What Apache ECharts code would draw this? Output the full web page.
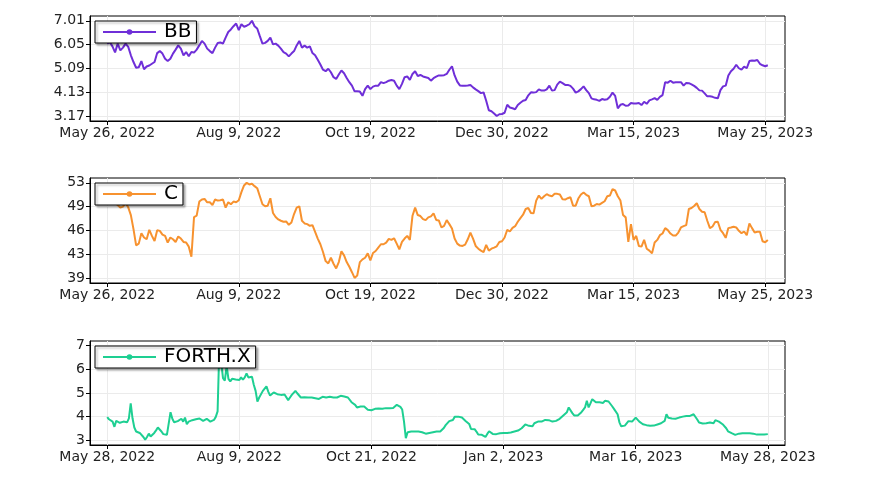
<!DOCTYPE html>
<html><head><meta charset="utf-8">
<script src="https://cdn.jsdelivr.net/npm/echarts/dist/echarts.min.js"></script>
<style>html,body{margin:0;padding:0;background:#fff}#c{width:875px;height:486px}</style>
</head><body><div id="c"></div>
<script>
// ---- tick positions / labels ----
const stockTickIdx = [0, 50, 100, 150, 200, 250];
const stockTickLabels = ["May 26, 2022", "Aug 9, 2022", "Oct 19, 2022", "Dec 30, 2022", "Mar 15, 2023", "May 25, 2023"];
const cryptoTickIdx = [0, 73, 146, 219, 292, 365];
const cryptoTickLabels = ["May 28, 2022", "Aug 9, 2022", "Oct 21, 2022", "Jan 2, 2023", "Mar 16, 2023", "May 28, 2023"];
const bbTicks = [3.17, 4.13, 5.09, 6.05, 7.01];
const cTicks = [39.2, 42.6, 46.0, 49.4, 52.8];
const forthTicks = [3, 4, 5, 6, 7];

// ---- series values (one per trading day / calendar day) ----
const bbValues = [
6.09,6.16,5.98,5.74,6.09,5.82,5.93,6.09,5.96,5.62,
5.35,5.12,5.14,5.39,5.06,5.17,5.21,5.28,5.35,5.71,
5.79,5.69,5.48,5.39,5.48,5.69,5.85,6.02,5.89,5.62,
5.75,5.58,5.75,5.73,5.85,6.02,6.20,6.09,5.89,5.79,
5.71,5.93,6.12,6.14,6.09,6.33,6.56,6.66,6.79,6.90,
6.63,6.87,6.77,6.81,6.87,7.01,6.79,6.70,6.39,6.09,
6.12,6.20,6.33,6.06,6.09,6.01,5.89,5.75,5.69,5.58,
5.69,5.79,6.02,6.20,5.93,6.01,5.93,5.98,5.71,5.62,
5.44,5.25,5.04,4.98,5.08,4.94,4.74,4.67,4.85,5.01,
4.90,4.71,4.54,4.40,4.17,4.17,4.16,3.99,4.26,4.40,
4.26,4.36,4.40,4.40,4.54,4.50,4.54,4.60,4.63,4.60,
4.40,4.26,4.47,4.74,4.77,4.63,4.87,4.98,4.79,4.83,
4.77,4.74,4.71,4.60,4.70,4.76,4.81,4.81,4.82,4.87,
5.04,5.18,4.81,4.56,4.41,4.40,4.40,4.41,4.43,4.33,
4.25,4.18,4.10,4.13,3.79,3.41,3.37,3.28,3.18,3.25,
3.26,3.31,3.63,3.52,3.49,3.45,3.62,3.71,3.79,3.82,
4.01,4.13,4.12,4.14,4.25,4.20,4.20,4.25,4.40,4.20,
4.22,4.44,4.56,4.50,4.43,4.43,4.39,4.28,4.12,4.17,
4.26,4.37,4.22,4.10,3.89,3.85,3.83,3.79,3.86,3.83,
3.85,3.95,4.12,3.99,3.49,3.63,3.66,3.59,3.60,3.70,
3.68,3.68,3.70,3.62,3.75,3.67,3.81,3.85,3.90,3.83,
3.95,4.02,4.54,4.52,4.60,4.52,4.54,4.54,4.54,4.40,
4.51,4.50,4.45,4.39,4.31,4.21,4.20,4.09,3.97,3.97,
3.95,3.91,3.89,4.22,4.37,4.40,4.81,4.98,5.08,5.24,
5.10,5.04,5.17,5.10,5.39,5.41,5.40,5.43,5.28,5.22,
5.18,5.22
];
const cValues = [
50.4,50.0,50.3,49.9,49.64,49.26,49.40,49.93,49.30,48.20,
46.19,43.89,44.13,45.62,45.00,44.75,46.10,45.23,44.51,46.05,
45.95,45.42,45.23,44.28,45.00,44.75,44.37,45.14,44.85,44.37,
44.28,43.70,42.26,47.92,48.11,50.12,50.41,50.50,50.02,50.02,
49.64,50.41,50.26,50.31,50.41,49.26,50.02,49.74,50.12,50.02,
50.31,51.46,52.42,52.80,52.56,52.66,52.32,52.03,50.88,49.74,
49.45,49.54,50.60,48.49,47.92,47.58,47.39,47.24,47.29,46.81,
47.15,48.35,49.26,49.45,47.39,47.01,46.91,46.67,46.77,45.81,
44.85,44.04,42.93,41.64,41.31,42.12,41.26,40.59,41.50,43.03,
42.46,41.50,40.83,40.06,39.25,39.58,41.50,41.88,42.12,42.74,
41.74,42.79,43.08,43.56,44.04,44.04,44.28,44.80,44.66,44.90,
44.13,43.32,44.37,44.85,45.23,44.66,48.11,49.26,48.20,48.06,
47.63,47.48,47.87,48.01,48.44,47.50,47.44,46.43,46.67,47.48,
46.91,46.29,44.85,44.13,43.85,43.80,43.99,44.75,45.71,44.85,
43.80,43.41,43.13,42.93,43.94,43.13,43.41,43.56,43.75,44.37,
44.47,45.00,46.10,45.86,46.38,46.62,47.24,47.77,48.25,49.06,
49.21,48.49,48.44,50.26,50.98,50.50,50.88,51.17,50.98,50.88,
51.22,51.22,51.12,50.45,50.41,50.60,50.74,49.54,49.54,50.55,
51.12,51.41,51.08,50.88,49.45,49.54,49.78,49.69,49.93,50.17,
50.88,50.98,51.89,51.70,50.88,50.26,48.20,47.87,44.37,46.91,
44.66,45.23,43.80,43.70,44.66,43.41,43.13,42.74,44.28,44.66,
45.33,45.57,46.34,46.05,45.57,45.28,45.28,45.71,46.43,46.62,
46.77,49.06,49.21,49.50,49.88,49.06,48.68,48.59,47.39,46.34,
46.57,47.20,47.24,46.10,45.62,44.95,46.34,46.43,46.53,46.43,
45.95,45.62,45.86,45.33,47.01,46.34,45.71,45.81,45.81,44.47,
44.32,44.66
];
const forthValues = [
3.98,3.89,3.93,3.79,3.57,3.82,3.79,3.74,3.76,3.79,
3.74,3.76,3.93,4.56,3.93,3.54,3.37,3.42,3.31,3.23,
3.14,3.02,3.14,3.28,3.16,3.23,3.31,3.42,3.54,3.47,
3.37,3.26,3.21,3.23,3.16,4.19,3.91,3.76,3.74,3.81,
3.85,3.91,3.79,3.96,3.68,3.79,3.81,3.85,3.86,3.89,
3.88,3.92,3.96,3.82,3.89,3.91,3.85,3.79,3.83,3.86,
3.99,4.22,7.00,6.30,5.63,5.52,6.15,5.60,5.49,5.60,
5.63,5.57,5.55,5.55,5.66,5.56,5.66,5.83,5.66,5.63,
5.69,5.35,5.09,4.64,4.81,4.81,5.09,5.04,5.28,5.06,
4.89,4.95,5.02,4.98,4.95,4.89,4.92,4.95,4.94,4.89,
4.70,4.81,4.92,4.98,5.09,4.99,4.92,4.81,4.78,4.82,
4.78,4.81,4.89,4.81,4.75,4.78,4.81,4.75,4.81,4.84,
4.85,4.81,4.81,4.84,4.85,4.81,4.82,4.81,4.81,4.88,
4.89,4.85,4.84,4.81,4.74,4.61,4.56,4.50,4.39,4.36,
4.43,4.37,4.43,4.36,4.29,4.22,4.27,4.30,4.33,4.29,
4.34,4.37,4.33,4.33,4.36,4.39,4.36,4.33,4.37,4.40,
4.50,4.53,4.41,4.30,3.79,3.09,3.34,3.42,3.37,3.38,
3.37,3.35,3.37,3.34,3.34,3.31,3.28,3.26,3.31,3.32,
3.34,3.35,3.37,3.40,3.37,3.44,3.52,3.64,3.62,3.81,
3.76,3.86,3.99,4.05,4.00,4.02,3.96,3.93,3.82,3.76,
3.69,3.48,3.44,3.47,3.37,3.24,3.28,3.23,3.17,3.14,
3.27,3.38,3.34,3.27,3.23,3.26,3.28,3.30,3.28,3.31,
3.30,3.31,3.30,3.33,3.33,3.37,3.38,3.41,3.45,3.51,
3.59,3.67,3.64,3.61,3.55,3.59,3.72,3.79,3.79,3.76,
3.79,3.82,3.86,3.88,3.85,3.83,3.79,3.79,3.82,3.86,
3.91,3.96,4.05,4.12,4.19,4.39,4.43,4.15,4.05,4.08,
4.05,4.10,4.19,4.29,4.39,4.67,4.39,4.56,4.74,4.73,
4.61,4.64,4.61,4.67,4.58,4.67,4.70,4.64,4.67,4.44,
4.33,4.30,4.10,3.76,3.59,3.57,3.62,3.65,3.81,3.88,
3.79,3.75,3.96,3.91,3.79,3.72,3.68,3.75,3.64,3.71,
3.61,3.57,3.62,3.62,3.67,3.68,3.72,3.74,3.82,4.10,
3.95,3.93,3.92,3.89,3.91,3.93,3.96,3.99,4.00,4.05,
4.03,4.05,4.03,4.03,4.10,4.13,3.88,3.75,3.76,3.71,
3.74,3.72,3.72,3.75,3.76,3.72,3.85,3.91,3.79,3.76,
3.68,3.62,3.51,3.38,3.34,3.30,3.31,3.23,3.24,3.28,
3.28,3.30,3.33,3.30,3.33,3.30,3.27,3.28,3.26,3.24,
3.23,3.24,3.26,3.24,3.26,3.26
];

const panels = [
  {name: 'BB', values: bbValues, color: '#6f2fd8', top: 16, height: 105,
   xIdx: stockTickIdx, xLabels: stockTickLabels, yTicks: bbTicks, yDigits: 2},
  {name: 'C', values: cValues, color: '#f7922f', top: 178, height: 105,
   xIdx: stockTickIdx, xLabels: stockTickLabels, yTicks: cTicks, yDigits: 0},
  {name: 'FORTH.X', values: forthValues, color: '#1ecf92', top: 341, height: 104,
   xIdx: cryptoTickIdx, xLabels: cryptoTickLabels, yTicks: forthTicks, yDigits: 0}
];

const FONT = 'DejaVu Sans';
const grid = [], xAxis = [], yAxis = [], series = [], legend = [];
panels.forEach((p, k) => {
  const n = p.values.length;
  const xpad = (n - 1) * 0.026;
  const lo = p.yTicks[0], hi = p.yTicks[p.yTicks.length - 1];
  const ypad = (hi - lo) * 0.05;
  grid.push({left: 90, top: p.top, width: 695, height: p.height, show: true,
    borderColor: '#000', borderWidth: 1, backgroundColor: 'transparent', outerBoundsMode: 'none'});
  const labelMap = {};
  p.xIdx.forEach((v, i) => { labelMap[v] = p.xLabels[i]; });
  xAxis.push({type: 'value', gridIndex: k, min: -xpad, max: n - 1 + xpad,
    axisLine: {show: true, onZero: false, lineStyle: {color: '#000', width: 1}},
    axisTick: {show: true, customValues: p.xIdx, length: 4, lineStyle: {color: '#000', width: 1}},
    axisLabel: {show: true, customValues: p.xIdx, margin: 5, color: '#222', fontSize: 14, fontFamily: FONT,
      formatter: v => labelMap[Math.round(v)] || ''},
    splitLine: {show: true, lineStyle: {color: '#ebebeb', width: 1}}
  });
  yAxis.push({type: 'value', gridIndex: k, min: lo - ypad, max: hi + ypad,
    axisLine: {show: true, onZero: false, lineStyle: {color: '#000', width: 1}},
    axisTick: {show: true, customValues: p.yTicks, length: 4, lineStyle: {color: '#000', width: 1}},
    axisLabel: {show: true, customValues: p.yTicks, margin: 5, color: '#222', fontSize: 14, fontFamily: FONT,
      formatter: v => Number(v).toFixed(p.yDigits)},
    splitLine: {show: true, lineStyle: {color: '#ebebeb', width: 1}}
  });
  series.push({type: 'line', name: p.name, xAxisIndex: k, yAxisIndex: k,
    data: p.values.map((v, i) => [i, v]), showSymbol: false, symbol: 'circle',
    lineStyle: {width: 2, color: p.color}, itemStyle: {color: p.color},
    clip: true, animation: false, z: 2});
  legend.push({data: [p.name], left: 95, top: p.top + 5, orient: 'horizontal',
    itemWidth: 53, itemHeight: 7, padding: [1, 5, 1, 7], selectedMode: false,
    backgroundColor: '#fff', borderColor: '#000', borderWidth: 1, borderRadius: 0,
    shadowColor: 'rgba(0,0,0,0.3)', shadowBlur: 2, shadowOffsetX: 2, shadowOffsetY: 2,
    textStyle: {fontSize: 20, fontFamily: FONT, color: '#000', lineHeight: 20, padding: [0, 0, 0, 3]},
    z: 10});
});

const chart = echarts.init(document.getElementById('c'), null, {renderer: 'canvas'});
chart.setOption({animation: false, backgroundColor: '#fff', grid, xAxis, yAxis, series, legend});
</script>
</body></html>
